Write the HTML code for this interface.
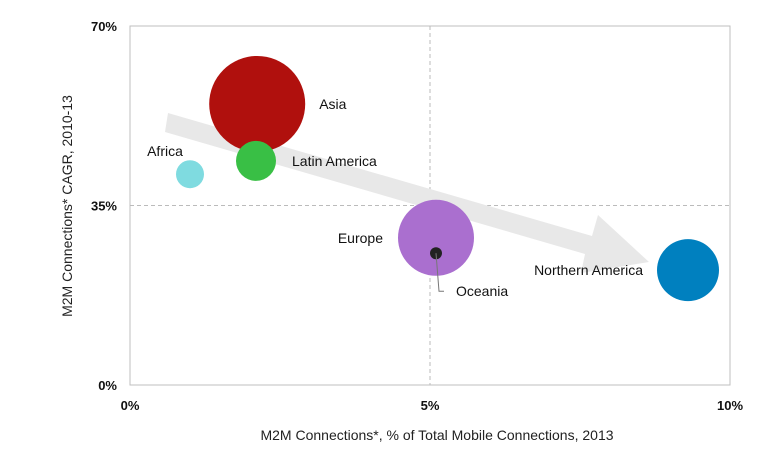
<!DOCTYPE html>
<html><head><meta charset="utf-8"><style>
body{margin:0;background:#fff;}
svg{display:block;font-family:"Liberation Sans",Arial,sans-serif;}
</style></head><body>
<svg width="784" height="462" viewBox="0 0 784 462">
<rect x="130" y="26" width="600" height="359" fill="#fff" stroke="#bfbfbf"/>
<g id="grid"></g>
<polygon points="168,113 592,236 598,215 649,262 581,273 585,254 165,132" fill="#e8e8e8"/>
<g id="bubbles"></g>
<g id="ticks"></g>
<text x="437" y="440" text-anchor="middle" font-size="14" fill="#222">M2M Connections*, % of Total Mobile Connections, 2013</text>
<text transform="translate(72,206) rotate(-90)" text-anchor="middle" font-size="14" fill="#222">M2M Connections* CAGR, 2010-13</text>
</svg>
<script>
const names=["Asia","Latin America","Africa","Europe","Oceania","Northern America"];
const xVals=[2.12,2.1,1.0,5.1,5.1,9.3];
const yVals=[54.8,43.7,41.1,28.7,25.7,22.4];
const radii=[48,20,14,38,6,31];
const colors=["#b0100d","#39bf45","#7fdbe0","#aa6fcf","#222222","#0080bf"];
const xTicks=[0,5,10];
const yTicks=[0,35,70];
const xTickLabels=["0%","5%","10%"];
const yTickLabels=["0%","35%","70%"];
const X=v=>130+v*60, Y=v=>385-v*359/70;
const NS="http://www.w3.org/2000/svg";
function mk(t,a,p){const e=document.createElementNS(NS,t);for(const k in a)e.setAttribute(k,a[k]);p.appendChild(e);return e;}
const grid=document.getElementById('grid'),ticks=document.getElementById('ticks'),bub=document.getElementById('bubbles');
let l=mk('line',{x1:X(5),x2:X(5),y1:26,y2:385,stroke:'#bbb','stroke-dasharray':'4,3'},grid);


l=mk('line',{x1:130,x2:730,y1:Y(35),y2:Y(35),stroke:'#bbb','stroke-dasharray':'4,3'},grid);


xTicks.forEach((v,i)=>{const t=mk('text',{x:X(v),y:410,'text-anchor':'middle','font-size':13,'font-weight':'bold',fill:'#111'},ticks);t.textContent=xTickLabels[i];

});
yTicks.forEach((v,i)=>{const t=mk('text',{x:117,y:Y(v)+5,'text-anchor':'end','font-size':13,'font-weight':'bold',fill:'#111'},ticks);t.textContent=yTickLabels[i];

});
const lab=[[62,5,'start'],[36,5,'start'],[-25,-18,'middle'],[-53,5,'end'],[null],[-45,5,'end']];
names.forEach((n,i)=>{const c=mk('circle',{cx:X(xVals[i]),cy:Y(yVals[i]),r:radii[i],fill:colors[i]},bub);


let tx,ty,anc='start';
if(lab[i][0]===null){const cx=X(xVals[i]),cy=Y(yVals[i]);
const p=mk('polyline',{points:`${cx},${cy} ${cx+3},${cy+38} ${cx+8},${cy+38}`,fill:'none',stroke:'#777'},bub);


tx=cx+20;ty=cy+43;}
else{tx=X(xVals[i])+lab[i][0];ty=Y(yVals[i])+lab[i][1];anc=lab[i][2];}
const t=mk('text',{x:tx,y:ty,'text-anchor':anc,'font-size':14,fill:'#111'},bub);t.textContent=n;

});
</script>
</body></html>
